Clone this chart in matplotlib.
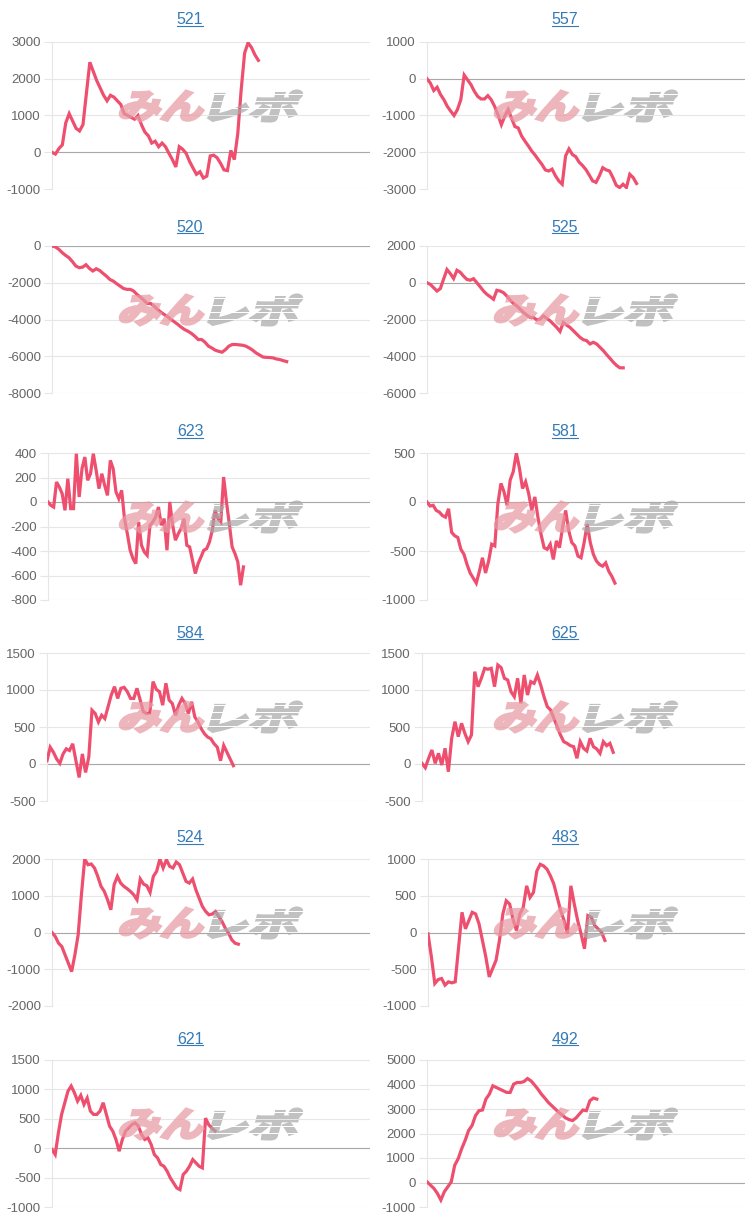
import numpy as np
import matplotlib
matplotlib.use("Agg")
import matplotlib.pyplot as plt
from matplotlib.textpath import TextPath
from matplotlib.font_manager import FontProperties
from matplotlib.patches import PathPatch
from matplotlib.lines import Line2D
from matplotlib.transforms import Affine2D, IdentityTransform

plt.rcParams['font.family'] = ['Liberation Sans', 'DejaVu Sans']

# machine numbers (panel titles), row by row
machines = ['521', '557', '520', '525', '623', '581', '584', '625', '524', '483', '621', '492']

# how far along the common x range each series reaches (0-100)
last_slot = [64.9, 65.9, 73.8, 61.7, 60.7, 59.1, 57.7, 59.2, 58.6, 55.8, 51.3, 53.4]

# y axis range and tick step per panel
y_top = [3000, 1000, 0, 2000, 400, 500, 1500, 1500, 2000, 1000, 1500, 5000]
y_bottom = [-1000, -3000, -8000, -6000, -800, -1000, -500, -500, -2000, -1000, -1000, -1000]
y_step = [1000, 1000, 2000, 2000, 200, 500, 500, 500, 1000, 500, 500, 1000]

v521 = [0, -50, 100, 200, 800, 1050, 850, 650, 580, 750, 1600, 2450, 2200, 1950, 1750, 1550, 1400,
        1550, 1500, 1400, 1300, 1050, 1000, 950, 900, 1000, 750, 550, 450, 250, 300, 150, 250, 150,
        -30, -200, -400, 150, 80, -30, -250, -430, -600, -530, -700, -650, -100, -80, -150, -300,
        -480, -500, 50, -200, 500, 1700, 2700, 2980, 2850, 2650, 2500]
v557 = [0, -120, -320, -230, -430, -570, -750, -880, -1000, -840, -570, 100, -30, -160, -340, -480,
        -550, -550, -460, -570, -750, -980, -1250, -1020, -840, -1070, -1300, -1340, -1560, -1700,
        -1830, -1970, -2080, -2210, -2330, -2480, -2510, -2460, -2640, -2780, -2870, -2100, -1910,
        -2060, -2120, -2270, -2360, -2470, -2620, -2780, -2820, -2640, -2420, -2480, -2510, -2690,
        -2900, -2960, -2870, -2960, -2600, -2690, -2850]
v520 = [0, -50, -180, -360, -510, -640, -850, -1090, -1180, -1150, -1020, -1220, -1360, -1240,
        -1330, -1490, -1640, -1820, -1910, -2050, -2180, -2310, -2360, -2360, -2450, -2640, -2780,
        -2950, -3130, -3130, -3270, -3450, -3600, -3730, -3850, -4000, -4130, -4270, -4420, -4550,
        -4640, -4760, -4910, -5090, -5090, -5240, -5450, -5550, -5670, -5730, -5780, -5640, -5450,
        -5360, -5360, -5380, -5400, -5450, -5550, -5670, -5820, -5930, -6040, -6060, -6070, -6090,
        -6150, -6180, -6240, -6290]
v525 = [0, -90, -270, -450, -320, 200, 720, 500, 230, 680, 570, 360, 180, 140, 220, 0, -220, -450,
        -630, -760, -900, -410, -450, -540, -720, -940, -1130, -1260, -1440, -1620, -1760, -1890,
        -1890, -2020, -1980, -1800, -1940, -2070, -2250, -2430, -2650, -2160, -2310, -2430, -2610,
        -2790, -2970, -3100, -3150, -3330, -3240, -3330, -3510, -3690, -3910, -4110, -4320, -4500,
        -4630, -4630]
v623 = [0, -27, -41, 163, 122, 68, -68, 190, -54, -54, 394, 41, 272, 367, 177, 231, 394, 258, 109,
        231, 136, 54, 340, 272, 82, 27, 95, -136, -258, -394, -462, -503, -163, -353, -408, -435,
        -190, -163, -122, -41, -190, -136, -394, 0, -190, -312, -258, -217, -136, -353, -367, -476,
        -584, -503, -449, -394, -381, -326, -231, -68, -136, -163, 204, 0, -177, -367, -421, -489,
        -679, -530]
v581 = [0, -41, -34, -86, -103, -138, -155, -69, -310, -345, -362, -483, -534, -638, -724, -776,
        -828, -707, -569, -724, -603, -431, -448, -17, 190, 103, -34, 224, 310, 500, 345, 138, 207,
        86, -86, 52, -155, -328, -466, -483, -431, -586, -397, -466, -259, -86, -293, -414, -448,
        -552, -569, -414, -224, -414, -534, -603, -638, -655, -621, -707, -759, -828]
v584 = [45, 227, 159, 68, 9, 136, 205, 182, 273, 45, -182, 136, -114, 91, 727, 682, 568, 659, 614,
        773, 932, 1045, 886, 1023, 1036, 977, 886, 886, 1023, 864, 705, 682, 691, 1114, 1009, 977,
        795, 1091, 864, 818, 659, 795, 886, 818, 682, 841, 636, 568, 477, 409, 364, 341, 273, 227,
        45, 250, 159, 68, -23]
v625 = [9, -50, 77, 189, 9, 144, -14, 212, -104, 347, 572, 369, 550, 414, 302, 392, 1248, 1045,
        1158, 1293, 1280, 1293, 1045, 1338, 1302, 1158, 1135, 977, 910, 1158, 820, 1203, 932, 1113,
        1090, 1203, 1068, 910, 775, 730, 617, 505, 392, 302, 279, 248, 234, 77, 302, 212, 176, 347,
        234, 203, 144, 302, 248, 279, 158]
v524 = [0, -109, -291, -382, -609, -836, -1064, -609, -64, 1027, 2000, 1845, 1864, 1755, 1527,
        1255, 1118, 891, 618, 1300, 1527, 1345, 1255, 1191, 1118, 1027, 891, 1455, 1318, 1273, 1091,
        1527, 1664, 2000, 1755, 1982, 1800, 1755, 1918, 1845, 1618, 1391, 1345, 1455, 1164, 936,
        709, 573, 482, 500, 573, 436, 300, 118, -18, -200, -291, -318]
v483 = [-18, -333, -694, -640, -626, -716, -671, -685, -671, -198, 275, 50, 162, 275, 252, 117,
        -108, -333, -604, -491, -378, -108, 252, 432, 387, 180, 27, 252, 342, 635, 477, 545, 838,
        928, 905, 860, 770, 658, 477, 297, 162, -18, 635, 387, 162, -18, -221, 230, 207, 95, 50, 5,
        -108]
v621 = [-23, -108, 261, 574, 773, 972, 1057, 943, 801, 898, 744, 852, 631, 574, 574, 631, 773, 574,
        375, 290, 148, -51, 148, 290, 347, 403, 432, 375, 233, 148, 176, 63, -108, -165, -278, -307,
        -392, -506, -591, -676, -705, -449, -392, -307, -193, -250, -307, -335, 511, 398, 341, 290]
v492 = [27, -108, -243, -446, -716, -378, -176, 27, 703, 973, 1378, 1716, 2122, 2324, 2730, 2932,
        2959, 3405, 3608, 3946, 3878, 3811, 3743, 3676, 3676, 4014, 4081, 4081, 4122, 4243, 4149,
        3986, 3811, 3608, 3446, 3270, 3135, 3000, 2865, 2757, 2635, 2568, 2527, 2635, 2797, 2959,
        2932, 3338, 3446, 3405]

series = [v521, v557, v520, v525, v623, v581, v584, v625, v524, v483, v621, v492]

# layout in pixels (figure is 750 x 1222)
W, H = 750, 1222
row_top = [42, 246, 453, 653, 859, 1060]
row_bottom = [189, 393, 600, 801, 1006, 1207]
title_y = [20, 227, 432, 633, 838, 1039]
left_px = [52, 427, 52, 427, 48, 427, 47, 422, 52, 428, 52, 427]
right_px = [370, 745]

LINE = '#ee4f6f'
GRID = '#e6e6e6'
ZERO = '#a8a8a8'
TICK = '#666666'
LINK = '#337ab7'

fig = plt.figure(figsize=(W / 100, H / 100), dpi=100)
fig.patch.set_facecolor('white')

titles = []
for i, name in enumerate(machines):
    row, col = divmod(i, 2)
    L, R = left_px[i], right_px[col]
    T, B = row_top[row], row_bottom[row]
    ax = fig.add_axes([L / W, 1 - B / H, (R - L) / W, (B - T) / H])
    vals = series[i]
    x = np.linspace(0, last_slot[i], len(vals))
    ax.plot(x, vals, color=LINE, lw=2.3, solid_joinstyle='miter', zorder=3)
    ax.set_xlim(0, 100)
    ax.set_ylim(y_bottom[i], y_top[i])
    ticks = np.arange(y_bottom[i], y_top[i] + 1, y_step[i])
    ax.set_yticks(ticks)
    ax.set_yticklabels([str(int(t)) for t in ticks])
    ax.set_xticks([])
    ax.grid(axis='y', color=GRID, lw=0.8)
    ax.axhline(0, color=ZERO, lw=0.8, zorder=2)
    for s in ['top', 'right', 'bottom']:
        ax.spines[s].set_visible(False)
    ax.spines['left'].set_color(GRID)
    ax.spines['left'].set_linewidth(0.8)
    ax.tick_params(axis='y', length=6, width=0.8, color=GRID, pad=2,
                   labelsize=9.5, labelcolor=TICK)
    ax.set_axisbelow(True)
    t = fig.text((col * 375 + 190) / W, 1 - title_y[row] / H, name, ha='center', va='center',
                 fontsize=11.5, color=LINK)
    titles.append(t)

# "みんレポ" watermark: render heavy slanted glyphs once off-screen, then stamp it
fp = FontProperties(family='Noto Sans CJK JP', weight='bold')
WM_W, WM_H = 200, 44
wm = plt.figure(figsize=(WM_W / 100, WM_H / 100), dpi=100)
wm.patch.set_alpha(0)


def glyphs(text, x0, x1, color):
    tp = TextPath((0, 0), text, prop=fp, size=100)
    bb = tp.get_extents()
    sx = (x1 - x0) / bb.width
    sy = 30 / bb.height
    tr = (Affine2D().translate(-bb.x0, -bb.y0).scale(sx, sy)
          .skew_deg(16, 0).translate(x0, 7))
    wm.add_artist(PathPatch(tp, transform=tr, facecolor=color, edgecolor=color,
                            lw=2.2, joinstyle='miter'))


glyphs('みん', 6, 88, '#e79aa2')
glyphs('レポ', 96, 182, '#a9a9a9')
wm.canvas.draw()
stamp = np.asarray(wm.canvas.buffer_rgba()).astype(float) / 255
plt.close(wm)
# speed-line gaps through the gray half
for r in range(10, WM_H - 6, 7):
    stamp[r, 95:, 3] = 0
stamp[:, :, 3] *= 0.72

for i in range(len(machines)):
    row, col = divmod(i, 2)
    cy = (row_top[row] + row_bottom[row]) / 2 - 10
    xo = col * 375 + 112
    yo = H - (cy + WM_H / 2)
    fig.figimage(stamp, xo=int(xo), yo=int(yo), origin='upper', zorder=5)

# underline the titles like links
fig.canvas.draw()
rend = fig.canvas.get_renderer()
for t in titles:
    bb = t.get_window_extent(rend)
    fig.add_artist(Line2D([bb.x0, bb.x1], [bb.y0 + 1.5, bb.y0 + 1.5], color=LINK, lw=0.8,
                          transform=IdentityTransform()))

fig.savefig('out.png', dpi=100, facecolor='white')
plt.close(fig)
